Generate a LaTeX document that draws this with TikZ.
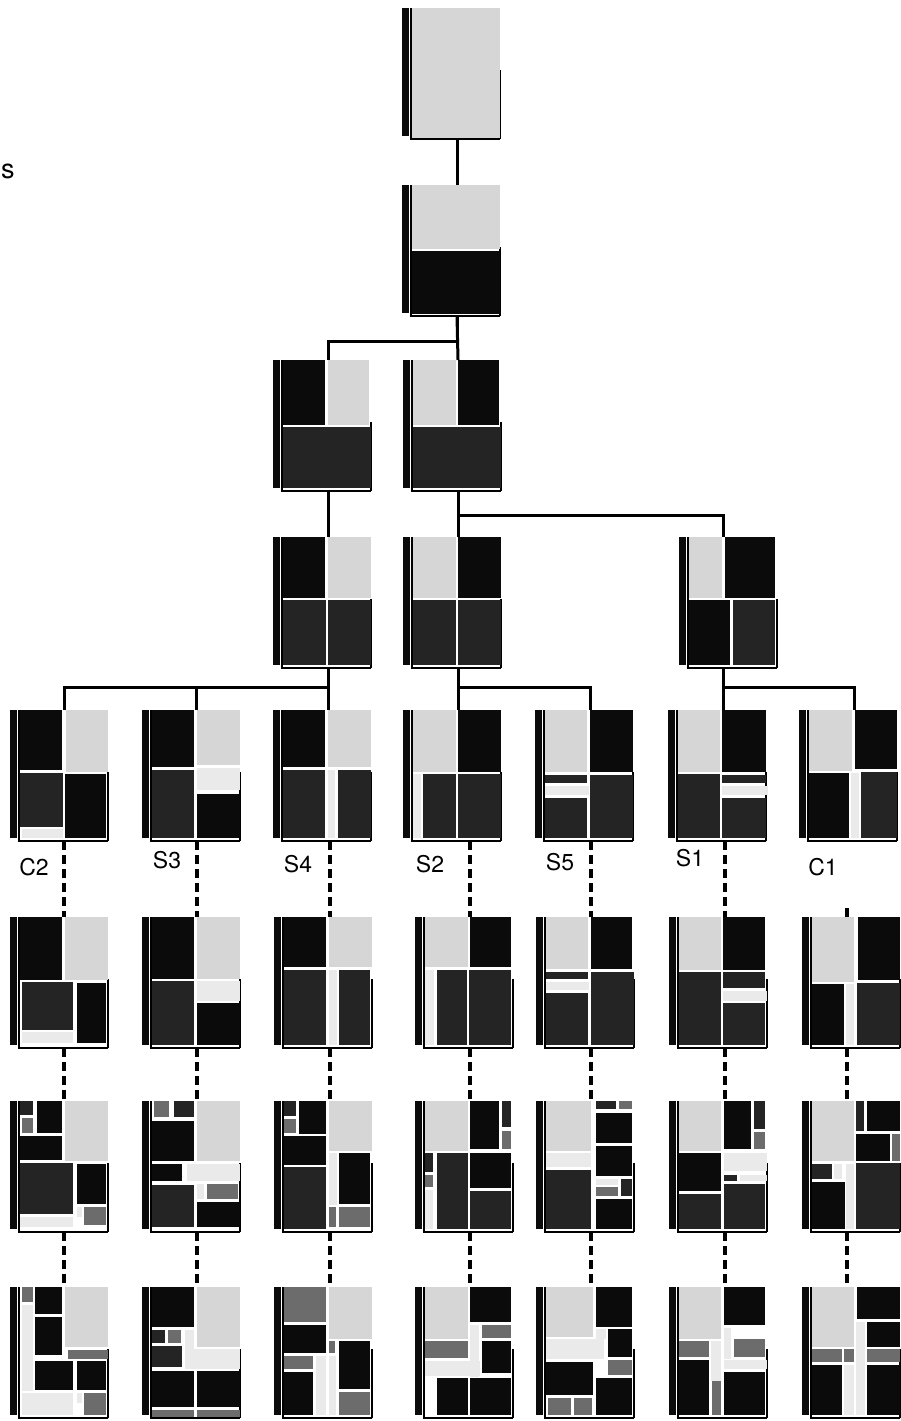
\documentclass[tikz,border=0pt]{standalone}
\usepackage{fontspec}
\setmainfont{TeX Gyre Heros}
\definecolor{cK}{HTML}{0B0B0B}
\definecolor{cD}{HTML}{242424}
\definecolor{cM}{HTML}{6C6C6C}
\definecolor{cL}{HTML}{D6D6D6}
\definecolor{cP}{HTML}{EAEAEA}
\tikzset{
  tree/.style={line width=3pt},
  link/.style={line width=3.2pt, dash pattern=on 9pt off 5pt},
  wall/.style={line width=1.2pt},
  lab/.style={font=\fontsize{23}{27}\selectfont, inner sep=0pt}
}
% one plan: name, x, y, connector offset, list of rooms
\newcommand{\plan}[5]{%
  \begin{scope}[shift={(#2,#3)}]
    \fill[cK] (0,0) rectangle (7,128);
    \draw[wall] (9,0) -- (9,131) -- (98,131);
    \draw[wall] (98,62) -- (98,131);
    \foreach \a/\b/\c/\d/\col in {#5}
      \fill[\col] (10+\a,\b) rectangle (10+\c,\d);
    \coordinate (#1-t) at (10+#4,0);
    \coordinate (#1-b) at (10+#4,131);
  \end{scope}}

\begin{document}
\begin{tikzpicture}[x=1pt,y=-1pt]
\useasboundingbox (0,0) rectangle (900,1421);
\node[lab, font=\fontsize{27}{31}\selectfont, anchor=base west] (cut) at (1,178) {s};

% root and first splits
\plan{r1}{402}{8}{45}{0/0/88/130/cL}
\plan{r2}{402}{185}{45}{0/0/88/64/cL, 0/66/88/129/cK}
\plan{r3a}{273}{360}{45}{0/0/42/65/cK, 45/0/86/65/cL, 0/67/88/128/cD}
\plan{r3b}{403}{360}{45}{0/0/43/65/cL, 45/0/86/65/cK, 0/67/88/128/cD}
\plan{r4a}{273}{537}{45}{0/0/42/61/cK, 45/0/88/61/cL, 0/63/43/128/cD, 45/63/88/128/cD}
\plan{r4b}{403}{537}{45}{0/0/43/61/cL, 45/0/88/61/cK, 0/63/43/128/cD, 45/63/88/128/cD}
\plan{r4c}{679}{537}{34}{0/0/33/61/cL, 36/0/86/61/cK, 0/63/41/128/cK, 44/63/86/128/cD}

% row of seeds
\plan{c2a}{10}{710}{44}{0/0/42/60/cK, 46/0/88/62/cL, 0/63/43/117/cD, 2/119/43/128/cP, 45/64/86/128/cK}
\plan{s3a}{142}{710}{44}{0/0/42/57/cK, 45/0/88/55/cL, 45/58/88/80/cP, 0/60/42/128/cD, 45/84/88/128/cK}
\plan{s4a}{273}{710}{45}{0/0/42/57/cK, 45/0/88/57/cL, 0/60/42/128/cD, 45/60/52/128/cP, 55/60/88/128/cD}
\plan{s2a}{403}{710}{45}{0/0/43/62/cL, 45/0/88/62/cK, 0/64/8/128/cP, 10/64/43/128/cD, 45/64/88/128/cD}
\plan{s5a}{535}{710}{45}{0/0/42/62/cL, 45/0/88/62/cK, 0/65/42/73/cD, 0/76/44/85/cP, 0/88/42/128/cD, 45/65/88/128/cD}
\plan{s1a}{668}{710}{45}{0/0/42/62/cL, 44/0/88/62/cK, 0/64/42/128/cD, 44/65/88/73/cD, 44/76/90/85/cP, 44/88/88/128/cD}
\plan{c1a}{799}{710}{45}{0/0/43/61/cL, 46/0/88/59/cK, 0/63/40/128/cK, 42/63/50/128/cP, 52/62/88/128/cD}

% second step
\plan{c2b}{10}{917}{44}{0/0/42/63/cK, 45/0/88/63/cL, 2/65/53/113/cD, 2/115/53/126/cP, 57/66/86/126/cK}
\plan{s3b}{142}{917}{45}{0/0/42/62/cK, 45/0/88/62/cL, 0/64/42/128/cD, 45/64/88/84/cP, 45/86/88/128/cK}
\plan{s4b}{274}{917}{46}{0/0/42/50/cK, 45/0/88/50/cL, 0/53/42/128/cD, 45/53/53/128/cP, 55/53/86/128/cD}
\plan{s2b}{415}{917}{45}{0/0/43/50/cL, 45/0/86/50/cK, 0/53/9/128/cP, 12/53/42/128/cD, 44/53/86/128/cD}
\plan{s5b}{536}{917}{45}{0/0/42/52/cL, 45/0/86/52/cK, 0/55/42/62/cD, 0/65/43/73/cP, 0/76/42/128/cD, 45/55/88/128/cD}
\plan{s1b}{669}{917}{46}{0/0/42/53/cL, 44/0/86/53/cK, 0/55/42/128/cD, 44/55/86/71/cD, 44/74/88/84/cP, 44/86/86/128/cD}
\plan{c1b}{802}{917}{35}{0/0/42/65/cL, 46/0/88/63/cK, 0/67/32/128/cK, 34/67/42/128/cP, 45/66/88/128/cD}

% third step
\plan{c2c}{10}{1101}{44}{0/0/13/14/cD, 17/0/42/32/cK, 2/17/13/32/cM, 0/35/42/59/cK, 45/0/88/60/cL, 0/62/53/113/cD, 0/116/53/126/cP, 57/63/86/103/cK, 57/106/62/116/cP, 64/106/86/124/cM}
\plan{s3c}{142}{1101}{45}{2/0/17/16/cM, 22/0/42/16/cD, 0/20/42/60/cK, 45/0/88/60/cL, 35/63/88/80/cP, 0/63/30/80/cK, 45/83/52/98/cP, 55/83/86/98/cM, 0/84/42/126/cD, 45/101/88/126/cK}
\plan{s4c}{274}{1101}{46}{0/0/12/15/cD, 15/0/42/33/cK, 0/18/12/32/cM, 0/35/42/64/cK, 45/0/88/50/cL, 45/52/53/104/cP, 55/52/86/103/cK, 0/66/42/128/cD, 45/106/52/126/cM, 55/106/86/126/cM}
\plan{s2c}{415}{1101}{45}{0/0/43/50/cL, 45/0/74/48/cK, 77/0/86/26/cD, 77/30/86/48/cM, 0/52/8/71/cD, 0/74/8/86/cM, 0/89/8/128/cP, 12/52/43/128/cD, 45/52/86/87/cK, 45/90/86/128/cD}
\plan{s5c}{536}{1101}{45}{0/0/45/50/cL, 0/52/45/66/cP, 0/69/45/128/cD, 50/0/70/8/cD, 73/0/86/8/cM, 50/12/86/42/cK, 50/45/86/75/cK, 50/78/72/84/cP, 75/78/86/95/cD, 50/86/72/95/cM, 50/98/86/128/cK}
\plan{s1c}{669}{1101}{46}{0/0/42/50/cL, 45/0/72/48/cK, 75/0/86/28/cD, 75/31/86/48/cM, 0/52/42/90/cK, 0/93/42/128/cD, 45/52/88/70/cP, 45/74/58/80/cD, 61/74/88/80/cP, 45/83/86/128/cD}
\plan{c1c}{802}{1101}{35}{0/0/42/60/cL, 44/0/52/30/cD, 55/0/88/30/cK, 44/33/78/60/cK, 80/33/88/60/cM, 0/63/20/78/cD, 22/63/30/78/cP, 0/81/33/128/cK, 34/63/42/128/cP, 44/62/88/128/cD}

% fourth step
\plan{c2d}{10}{1287}{44}{2/0/13/15/cM, 15/0/42/27/cK, 2/18/13/104/cP, 15/30/42/68/cK, 45/0/88/60/cL, 48/63/88/72/cM, 15/74/53/103/cK, 57/74/86/103/cK, 2/106/53/128/cP, 57/106/62/116/cP, 64/106/86/128/cM}
\plan{s3d}{142}{1287}{45}{0/0/42/40/cK, 0/43/13/56/cD, 16/43/29/56/cM, 0/59/30/80/cD, 33/43/42/82/cP, 45/0/88/60/cL, 33/62/88/82/cP, 0/84/42/120/cK, 45/84/88/120/cK, 0/123/42/130/cM, 45/123/88/130/cM}
\plan{s4d}{274}{1287}{46}{0/0/42/35/cM, 45/0/88/52/cL, 0/38/42/66/cK, 45/54/51/66/cM, 55/54/86/102/cK, 0/69/29/82/cM, 32/69/42/128/cP, 0/85/29/128/cK, 45/69/52/128/cP, 55/105/86/128/cM}
\plan{s2d}{415}{1287}{45}{0/0/43/52/cL, 45/0/86/35/cK, 57/38/86/51/cM, 45/38/54/90/cP, 0/54/43/71/cM, 57/54/86/86/cK, 0/74/55/89/cP, 12/91/43/128/cK, 45/91/86/128/cK}
\plan{s5d}{536}{1287}{45}{0/0/47/50/cL, 50/0/86/40/cK, 0/52/58/72/cP, 50/42/60/52/cP, 62/42/86/70/cK, 62/73/86/88/cM, 0/75/47/108/cK, 50/91/86/128/cK, 2/111/25/128/cM, 28/111/46/128/cM}
\plan{s1d}{669}{1287}{46}{0/0/42/52/cL, 45/0/86/38/cK, 0/54/30/70/cM, 32/54/42/94/cP, 45/41/52/72/cP, 55/52/86/70/cM, 45/73/88/82/cP, 0/73/30/128/cK, 33/94/42/128/cM, 45/85/86/128/cK}
\plan{c1d}{802}{1287}{35}{0/0/42/60/cL, 45/0/88/32/cK, 55/35/88/60/cK, 44/35/53/128/cP, 0/62/30/75/cM, 32/62/42/75/cM, 55/62/88/75/cM, 0/78/30/128/cK, 32/78/42/128/cP, 55/78/88/128/cK}

% split tree
\draw[tree] (r1-b) -- (r2-t);
\draw[tree] (r2-b) -- (r3b-t);
\draw[tree] (r2-b) -- ++(0,25) -| (r3a-t);
\draw[tree] (r3a-b) -- (r4a-t);
\draw[tree] (r3b-b) -- (r4b-t);
\draw[tree] (r3b-b) -- ++(0,24) -| (r4c-t);
\draw[tree] (r4a-b) -- (s4a-t);
\draw[tree] (r4a-b) -- ++(0,19) -| (c2a-t);
\draw[tree] (r4a-b) -- ++(0,19) -| (s3a-t);
\draw[tree] (r4b-b) -- (s2a-t);
\draw[tree] (r4b-b) -- ++(0,19) -| (s5a-t);
\draw[tree] (r4c-b) -- (s1a-t);
\draw[tree] (r4c-b) -- ++(0,19) -| (c1a-t);

% growth steps
\foreach \p in {c2,s3,s4,s2,s5,s1} {
  \draw[link] (\p b-t |- \p a-b) -- (\p b-t);
}
\draw[link] (c1b-t) -- ++(0,-10);
\foreach \p in {c2,s3,s4,s2,s5,s1,c1} {
  \draw[link] (\p b-b) -- (\p c-t);
  \draw[link] (\p c-b) -- (\p d-t);
}

% seed names
\node[lab] (lc2) at (34,867) {C2};
\node[lab] (ls3) at (167,860) {S3};
\node[lab] (ls4) at (298,864) {S4};
\node[lab] (ls2) at (430,864) {S2};
\node[lab] (ls5) at (560,862) {S5};
\node[lab] (ls1) at (690,858) {S1};
\node[lab] (lc1) at (823,867) {C1};
\end{tikzpicture}
\end{document}
